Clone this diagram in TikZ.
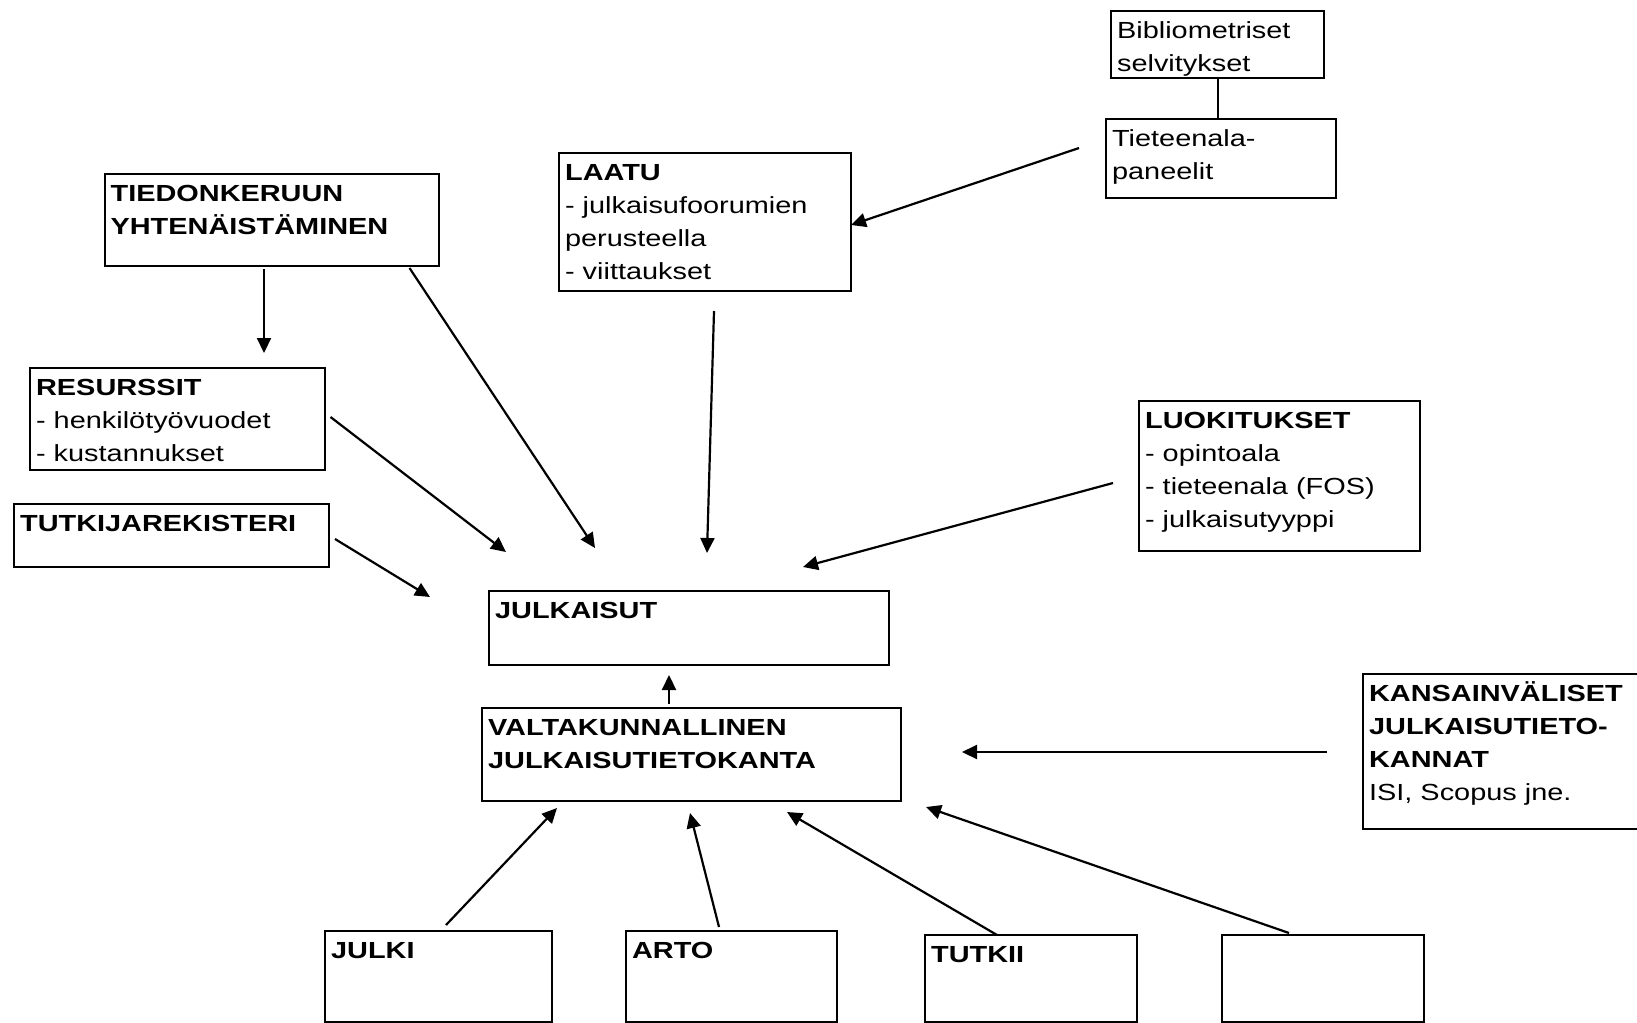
\documentclass[tikz,border=0pt]{standalone}
\usepackage{fontspec}
\setmainfont[FakeStretch=1.24]{Liberation Sans}
\usetikzlibrary{arrows.meta}

\newcommand{\teksti}[3]{\parbox[t][#2][t]{#1}{\raggedright\strut #3}}

\begin{document}
\begin{tikzpicture}[x=0.5pt,y=-0.5pt,
    font=\fontsize{11.65pt}{16.5pt}\selectfont,
    box/.style={draw, line width=1.1pt, anchor=north west, inner xsep=3pt, inner ysep=2pt},
    arr/.style={line width=1.1pt, -{Triangle[length=7.5pt,width=7pt]}}]
      \useasboundingbox (0,0) rectangle (1637,1022);
      \clip (0,0) rectangle (1637,1022);

      % laatikot
      \node[box] (bib) at (1110,10) {\teksti{100.5pt}{29.5pt}{Bibliometriset\\selvitykset}};
      \node[box] (tiet) at (1105,118) {\teksti{109pt}{35.5pt}{Tieteenala-\\paneelit}};
      \node[box] (laatu) at (558,152) {\teksti{140pt}{65pt}{\textbf{LAATU}\\- julkaisufoorumien\\perusteella\\- viittaukset}};
      \node[box] (tied) at (103.5,173) {\teksti{161pt}{42pt}{\textbf{TIEDONKERUUN\\YHTENÄISTÄMINEN}}};
      \node[box] (res) at (29,367) {\teksti{141.5pt}{47pt}{\textbf{RESURSSIT}\\- henkilötyövuodet\\- kustannukset}};
      \node[box] (tutk) at (13,503) {\teksti{151.5pt}{27.5pt}{\textbf{TUTKIJAREKISTERI}}};
      \node[box] (luok) at (1138,400) {\teksti{134.5pt}{71pt}{\textbf{LUOKITUKSET}\\- opintoala\\- tieteenala (FOS)\\- julkaisutyyppi}};
      \node[box] (julk) at (488,590) {\teksti{194pt}{33pt}{\textbf{JULKAISUT}}};
      \node[box] (valt) at (481,707) {\teksti{203.5pt}{42.5pt}{\textbf{VALTAKUNNALLINEN\\JULKAISUTIETOKANTA}}};
      \node[box] (kans) at (1362,673) {\teksti{135.5pt}{73.5pt}{\textbf{KANSAINVÄLISET\\JULKAISUTIETO-\\KANNAT}\\ISI, Scopus jne.}};
      \node[box] (julki) at (324,930) {\teksti{107.5pt}{41.5pt}{\textbf{JULKI}}};
      \node[box] (arto) at (625,930) {\teksti{99.5pt}{41.5pt}{\textbf{ARTO}}};
      \node[box] (tutkii) at (924,934) {\teksti{100pt}{39.5pt}{\textbf{TUTKII}}};
      \node[box] (tyhja) at (1221,934) {\teksti{95pt}{39.5pt}{}};

      % nuolten päät
      \coordinate (tied-a) at (264,269);   \coordinate (res-in) at (264,353);
      \coordinate (tied-b) at (409.5,268); \coordinate (julk-1) at (595,548);
      \coordinate (laatu-a) at (714,311);  \coordinate (julk-2) at (707,553);
      \coordinate (tiet-a) at (1079,148);  \coordinate (laatu-in) at (851,225);
      \coordinate (res-a) at (330.5,417);  \coordinate (julk-0) at (506,552);
      \coordinate (tutk-a) at (335,539);   \coordinate (julk-00) at (430,597);
      \coordinate (luok-a) at (1113,483);  \coordinate (julk-3) at (803,567);
      \coordinate (valt-a) at (669,704);   \coordinate (julk-4) at (669,675);
      \coordinate (kans-a) at (1327,752);  \coordinate (valt-1) at (962,752);
      \coordinate (julki-a) at (446,925);  \coordinate (valt-2) at (557,808);
      \coordinate (arto-a) at (719,927);   \coordinate (valt-3) at (690,813);
      \coordinate (tutkii-a) at (997,935); \coordinate (valt-4) at (787,812);
      \coordinate (tyhja-a) at (1289,933); \coordinate (valt-5) at (926,807);

      % yhteydet
      \draw[line width=1.1pt] (bib.south) -- (bib.south |- tiet.north);
      \draw[arr] (tied-a) -- (res-in);
      \draw[arr] (tied-b) -- (julk-1);
      \draw[arr] (laatu-a) -- (julk-2);
      \draw[arr] (tiet-a) -- (laatu-in);
      \draw[arr] (res-a) -- (julk-0);
      \draw[arr] (tutk-a) -- (julk-00);
      \draw[arr] (luok-a) -- (julk-3);
      \draw[arr] (valt-a) -- (julk-4);
      \draw[arr] (kans-a) -- (valt-1);
      \draw[arr] (julki-a) -- (valt-2);
      \draw[arr] (arto-a) -- (valt-3);
      \draw[arr] (tutkii-a) -- (valt-4);
      \draw[arr] (tyhja-a) -- (valt-5);
\end{tikzpicture}
\end{document}
